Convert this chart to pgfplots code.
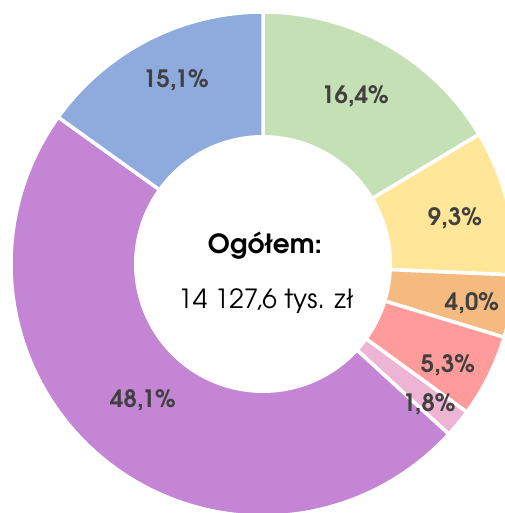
\documentclass[border=0pt]{standalone}
\usepackage{pgfplots}
\pgfplotsset{compat=1.18}
\usepackage{fontspec}
\setmainfont{texgyreadventor}[Extension=.otf, UprightFont=*-regular, BoldFont=*-bold, ItalicFont=*-italic, BoldItalicFont=*-bolditalic]
\definecolor{cg}{HTML}{C5E0B4}
\definecolor{cy}{HTML}{FFE699}
\definecolor{co}{HTML}{F4BA80}
\definecolor{cr}{HTML}{FF9B9B}
\definecolor{cp}{HTML}{EEB4D4}
\definecolor{cv}{HTML}{C485D4}
\definecolor{cb}{HTML}{8FAADC}
\definecolor{tg}{HTML}{404040}
\tikzset{lab/.style={font=\bfseries\fontsize{24}{28}\selectfont, text=tg, inner sep=0pt}}
% \slice{cumulative start %}{share %}{colour}
\newcommand{\slice}[3]{%
  \addplot[fill=#3, draw=white, line width=3.5bp,
    domain={90-3.6*(#1+#2)}:{90-3.6*(#1)}, samples=150, variable=\t]
    ({252*cos(\t)},{252*sin(\t)}) -- (0,0) -- cycle;}
\begin{document}
\begin{tikzpicture}
\begin{axis}[
  scale only axis, width=505bp, height=513bp,
  xmin=-263, xmax=242, ymin=-249, ymax=264,
  axis lines=none, clip=true
]
\slice{0}{16.4}{cg}
\slice{16.4}{9.3}{cy}
\slice{25.7}{4.0}{co}
\slice{29.7}{5.3}{cr}
\slice{35.0}{1.8}{cp}
\slice{36.8}{48.1}{cv}
\slice{84.9}{15.1}{cb}
\addplot[fill=white, draw=none, domain=0:360, samples=200, variable=\t]
  ({129*cos(\t)},{129*sin(\t)}) -- cycle;
\node[lab] at (axis cs:92,168) {16,4\%};
\node[lab] at (axis cs:192,46) {9,3\%};
\node[lab] at (axis cs:209,-39) {4,0\%};
\node[lab] at (axis cs:185,-101) {5,3\%};
\node[lab] at (axis cs:166,-140) {1,8\%};
\node[lab] at (axis cs:-120,-136) {48,1\%};
\node[lab] at (axis cs:-87,184) {15,1\%};
\node[lab, text=black, font=\bfseries\fontsize{26.5}{30}\selectfont] at (axis cs:2,18) {Ogółem:};
\node[lab, text=black, font=\fontsize{26.5}{30}\selectfont] at (axis cs:3,-37) {14 127,6 tys. zł};
\end{axis}
\pgfresetboundingbox
\path[use as bounding box] (current axis.south west) rectangle (current axis.north east);
\end{tikzpicture}
\end{document}
